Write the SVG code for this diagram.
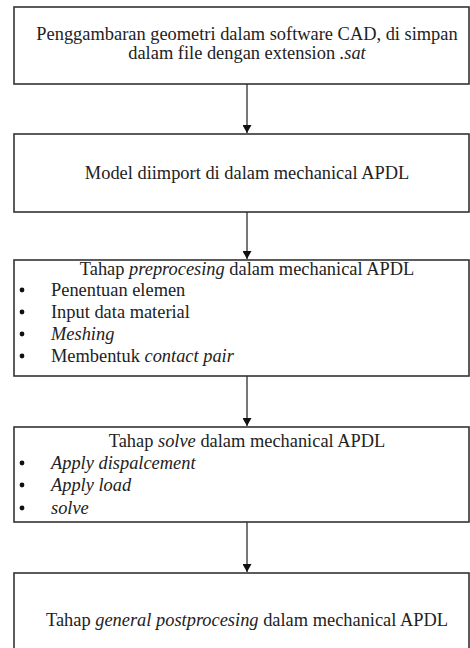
<svg xmlns="http://www.w3.org/2000/svg" width="470" height="648" viewBox="0 0 470 648">
<defs>
<style>
.box{fill:#fff;stroke:#333;stroke-width:1.6}
.t{font-family:"Liberation Serif","Times New Roman",serif;font-size:18.4px;fill:#222}
.c{text-anchor:middle}
.i{font-style:italic}
.con{stroke:#555;stroke-width:1.6;fill:none}
.b{fill:#111}
</style>
<marker id="ah" viewBox="0 0 8 9" refX="8" refY="4.5" markerWidth="8" markerHeight="9" markerUnits="userSpaceOnUse" orient="auto">
<path d="M0,0 L8,4.5 L0,9 Z" fill="#111"/>
</marker>
</defs>
<rect width="470" height="648" fill="#fff"/>
<g id="connectors">
<line class="con" x1="247" y1="84" x2="247" y2="133" marker-end="url(#ah)"/>
<line class="con" x1="247" y1="212" x2="247" y2="259" marker-end="url(#ah)"/>
<line class="con" x1="247" y1="376" x2="247" y2="426" marker-end="url(#ah)"/>
<line class="con" x1="247" y1="522" x2="247" y2="572" marker-end="url(#ah)"/>
</g>
<g id="n1">
<rect class="box" x="14" y="7" width="455" height="77"/>
<text class="t c" x="247" y="40">Penggambaran geometri dalam software CAD, di simpan</text>
<text class="t c" x="247" y="59">dalam file dengan extension <tspan class="i">.sat</tspan></text>
</g>
<g id="n2">
<rect class="box" x="14" y="134" width="455" height="78"/>
<text class="t c" x="247" y="179">Model diimport di dalam mechanical APDL</text>
</g>
<g id="n3">
<rect class="box" x="14" y="260" width="455" height="116"/>
<text class="t c" x="247" y="275">Tahap <tspan class="i">preprocesing</tspan> dalam mechanical APDL</text>
<circle class="b" cx="22" cy="290" r="2.4"/>
<circle class="b" cx="22" cy="312" r="2.4"/>
<circle class="b" cx="22" cy="334" r="2.4"/>
<circle class="b" cx="22" cy="356" r="2.4"/>
<text class="t" x="51" y="296">Penentuan elemen</text>
<text class="t" x="51" y="318">Input data material</text>
<text class="t i" x="51" y="340">Meshing</text>
<text class="t" x="51" y="362">Membentuk <tspan class="i">contact pair</tspan></text>
</g>
<g id="n4">
<rect class="box" x="14" y="427" width="455" height="95"/>
<text class="t c" x="247" y="447">Tahap <tspan class="i">solve</tspan> dalam mechanical APDL</text>
<circle class="b" cx="22" cy="463" r="2.4"/>
<circle class="b" cx="22" cy="485" r="2.4"/>
<circle class="b" cx="22" cy="508" r="2.4"/>
<text class="t i" x="51" y="469">Apply dispalcement</text>
<text class="t i" x="51" y="491">Apply load</text>
<text class="t i" x="51" y="514">solve</text>
</g>
<g id="n5">
<rect class="box" x="14" y="573" width="455" height="90"/>
<text class="t c" x="247" y="626">Tahap <tspan class="i">general postprocesing</tspan> dalam mechanical APDL</text>
</g>
</svg>
